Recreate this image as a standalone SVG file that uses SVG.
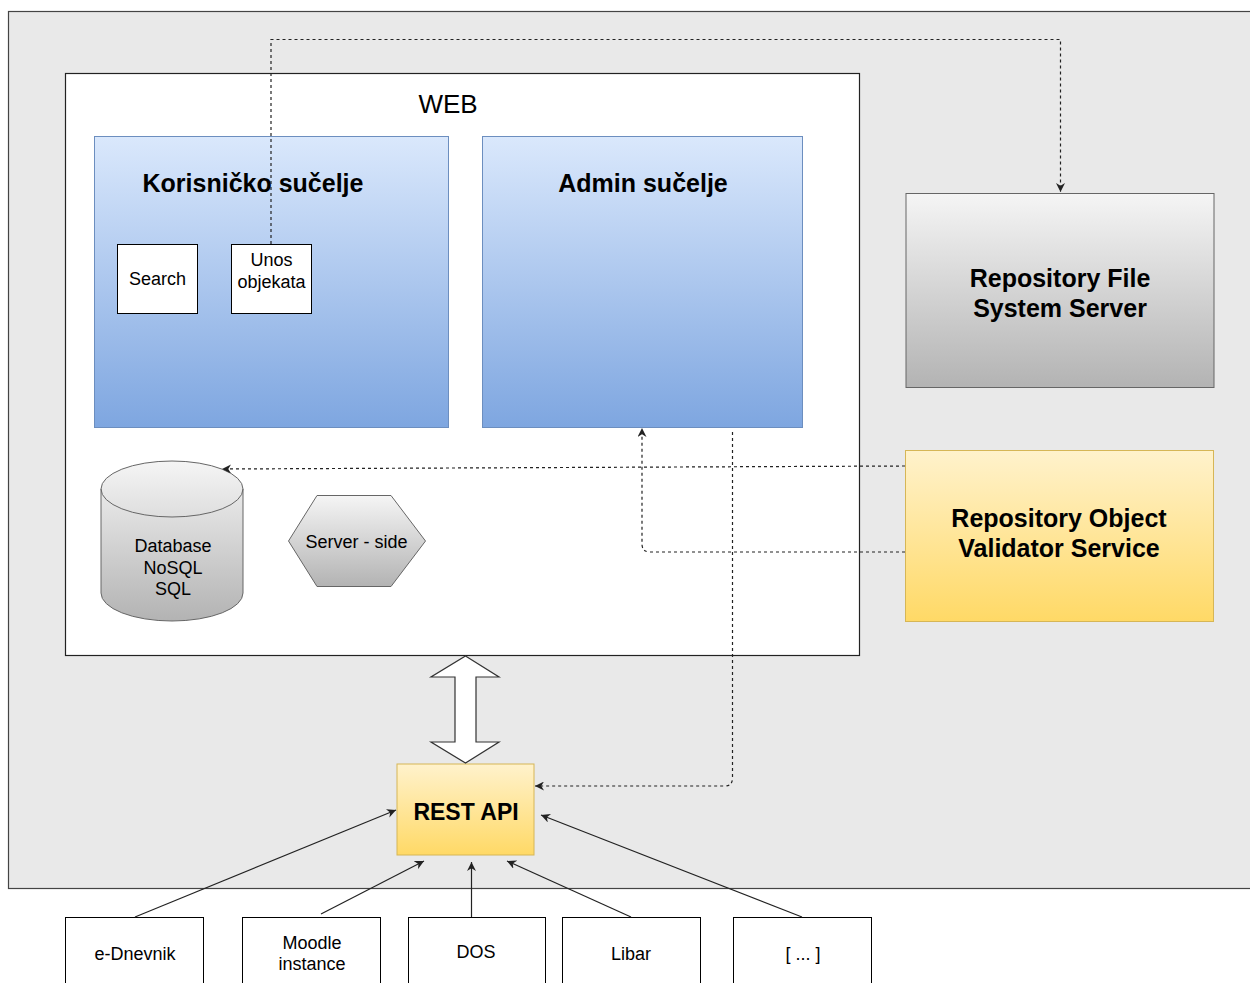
<svg xmlns="http://www.w3.org/2000/svg" width="1250" height="983" viewBox="0 0 1250 983">
  <style>
    .t { font-family: "Liberation Sans", Arial, sans-serif; fill: #000; text-anchor: middle; }
    .r18 { font-size: 18px; }
    .b25 { font-size: 25px; font-weight: bold; }
    .box { fill: #fff; stroke: #000; stroke-width: 1; }
    .dash { fill: none; stroke: #222; stroke-width: 1.2; stroke-dasharray: 3 3; }
    .solid { fill: none; stroke: #222; stroke-width: 1.2; }
  </style>
  <defs>
    <linearGradient id="gBlue" x1="0" y1="0" x2="0" y2="1">
      <stop offset="0" stop-color="#dae8fc"/>
      <stop offset="1" stop-color="#7ea6e0"/>
    </linearGradient>
    <linearGradient id="gGray" x1="0" y1="0" x2="0" y2="1">
      <stop offset="0" stop-color="#f5f5f5"/>
      <stop offset="1" stop-color="#b3b3b3"/>
    </linearGradient>
    <linearGradient id="gYellow" x1="0" y1="0" x2="0" y2="1">
      <stop offset="0" stop-color="#fff2cc"/>
      <stop offset="1" stop-color="#ffd966"/>
    </linearGradient>
    <marker id="arr" viewBox="0 0 10 10" refX="10" refY="5" markerWidth="9" markerHeight="9" markerUnits="userSpaceOnUse" orient="auto">
      <path d="M0,0 L10,5 L0,10 L3,5 Z" fill="#222"/>
    </marker>
  </defs>

  <!-- background area -->
  <rect x="8.5" y="11.5" width="1262" height="877" fill="#e9e9e9" stroke="#444" stroke-width="1.2"/>

  <!-- WEB container -->
  <g id="web">
    <rect x="65.5" y="73.5" width="794" height="582" fill="#fff" stroke="#222" stroke-width="1.2"/>
    <text class="t" x="448" y="113" font-size="26">WEB</text>
  </g>

  <g id="korisnicko">
    <rect x="94.5" y="136.5" width="354" height="291" fill="url(#gBlue)" stroke="#6c8ebf"/>
    <text class="t b25" x="253" y="192">Korisničko sučelje</text>
  </g>

  <g id="search">
    <rect class="box" x="117.5" y="244.5" width="80" height="69"/>
    <text class="t r18" x="157.5" y="285">Search</text>
  </g>

  <g id="unos">
    <rect class="box" x="231.5" y="244.5" width="80" height="69"/>
    <text class="t r18" x="271.5" y="266">Unos</text>
    <text class="t r18" x="271.5" y="288">objekata</text>
  </g>

  <g id="admin">
    <rect x="482.5" y="136.5" width="320" height="291" fill="url(#gBlue)" stroke="#6c8ebf"/>
    <text class="t b25" x="643" y="192">Admin sučelje</text>
  </g>

  <g id="fileserver">
    <rect x="906" y="193.5" width="308" height="194" fill="url(#gGray)" stroke="#666"/>
    <text class="t b25" x="1060" y="287">Repository File</text>
    <text class="t b25" x="1060" y="317">System Server</text>
  </g>

  <g id="validator">
    <rect x="905.5" y="450.5" width="308" height="171" fill="url(#gYellow)" stroke="#d6b656"/>
    <text class="t b25" x="1059" y="527">Repository Object</text>
    <text class="t b25" x="1059" y="557">Validator Service</text>
  </g>

  <g id="database">
    <path d="M101,489 A71,28 0 0 1 243,489 V593 A71,28 0 0 1 101,593 Z" fill="url(#gGray)" stroke="#666"/>
    <path d="M101,489 A71,28 0 0 0 243,489" fill="none" stroke="#666"/>
    <text class="t r18" x="173" y="552">Database</text>
    <text class="t r18" x="173" y="574">NoSQL</text>
    <text class="t r18" x="173" y="595">SQL</text>
  </g>

  <g id="serverside">
    <polygon points="288.5,541 317,495.5 391,495.5 425.5,541 391,586.5 317,586.5" fill="url(#gGray)" stroke="#666"/>
    <text class="t r18" x="356.5" y="548">Server - side</text>
  </g>

  <g id="restapi">
    <rect x="397" y="764" width="137" height="91" fill="url(#gYellow)" stroke="#d6b656"/>
    <text class="t" x="466" y="820" font-size="23" font-weight="bold">REST API</text>
  </g>

  <g id="ednevnik">
    <rect class="box" x="65.5" y="917.5" width="138" height="80"/>
    <text class="t r18" x="135" y="960">e-Dnevnik</text>
  </g>
  <g id="moodle">
    <rect class="box" x="242.5" y="917.5" width="138" height="80"/>
    <text class="t r18" x="312" y="949">Moodle</text>
    <text class="t r18" x="312" y="970">instance</text>
  </g>
  <g id="dos">
    <rect class="box" x="408.5" y="917.5" width="137" height="80"/>
    <text class="t r18" x="476" y="958">DOS</text>
  </g>
  <g id="libar">
    <rect class="box" x="562.5" y="917.5" width="138" height="80"/>
    <text class="t r18" x="631" y="960">Libar</text>
  </g>
  <g id="more">
    <rect class="box" x="733.5" y="917.5" width="138" height="80"/>
    <text class="t r18" x="803" y="960">[ ... ]</text>
  </g>

  <g id="connectors">
    <!-- WEB <-> REST API -->
    <polygon points="465.5,656 499,677 476,677 476,742 499,742 465.5,763 431,742 455,742 455,677 431,677" fill="#fff" stroke="#333" stroke-width="1.2"/>

    <!-- dotted links -->
    <path class="dash" d="M271,244 V39.5 H1060.5 V192" marker-end="url(#arr)"/>
    <path class="dash" d="M905,466 L222,469" marker-end="url(#arr)"/>
    <path class="dash" d="M905,552 H650 Q642,552 642,544 V428" marker-end="url(#arr)"/>
    <path class="dash" d="M732.5,432 V778 Q732.5,786 724.5,786 H535" marker-end="url(#arr)"/>

    <!-- clients to REST API -->
    <path class="solid" d="M135,917 L396,810" marker-end="url(#arr)"/>
    <path class="solid" d="M321,914 L424,861" marker-end="url(#arr)"/>
    <path class="solid" d="M471.5,917 L471.5,862" marker-end="url(#arr)"/>
    <path class="solid" d="M631,917 L507,861" marker-end="url(#arr)"/>
    <path class="solid" d="M802,917 L541,815" marker-end="url(#arr)"/>
  </g>
</svg>
